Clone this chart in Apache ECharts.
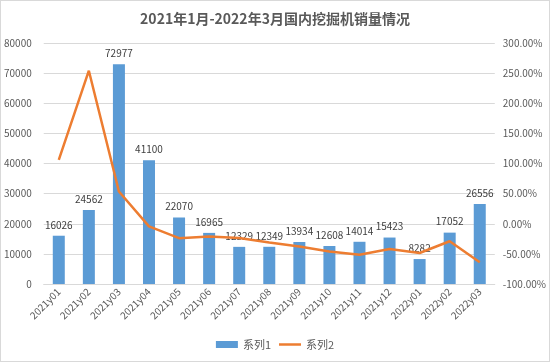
<!DOCTYPE html>
<html><head><meta charset="utf-8">
<script src="https://cdn.jsdelivr.net/npm/echarts@6/dist/echarts.min.js"></script>
<style>html,body{margin:0;padding:0;background:#fff}#c{width:548px;height:360px;border:1px solid #d9d9d9}</style>
</head><body><div id="c"></div>
<script>
const categories = ['2021y01','2021y02','2021y03','2021y04','2021y05','2021y06','2021y07','2021y08','2021y09','2021y10','2021y11','2021y12','2022y01','2022y02','2022y03'];
const series1 = [16026,24562,72977,41100,22070,16965,12329,12349,13934,12608,14014,15423,8282,17052,26556];
const series2 = [106,254,53.6,-4.4,-24,-21,-23.8,-31,-37.6,-46,-51.5,-42,-48.6,-29,-64];
const leftTicks = {min:0,max:80000,interval:10000};
const rightTicks = {min:-100,max:300,interval:50};

const chart = echarts.init(document.getElementById('c'));
const font = '"Noto Sans CJK SC", "Open Sans", sans-serif';
chart.setOption({
  animation:false,
  textStyle:{fontFamily:font},
  title:{text:'2021年1月-2022年3月国内挖掘机销量情况',left:'center',top:6,
    textStyle:{fontSize:14,fontWeight:'bold',color:'#595959',fontFamily:font}},
  legend:{bottom:6,left:'center',itemWidth:22,itemHeight:7,itemGap:8,
    textStyle:{fontSize:11,color:'#595959'},
    data:[{name:'系列1',icon:'rect'},{name:'系列2',icon:'path://M0,0H22V2.5H0Z',itemStyle:{color:'#ED7D31'}}]},
  grid:{left:41,right:54,top:42,bottom:77},
  xAxis:{type:'category',data:categories,
    axisLine:{lineStyle:{color:'#d9d9d9'}},axisTick:{show:false},
    axisLabel:{rotate:45,fontSize:10,color:'#595959',margin:6,interval:0}},
  yAxis:[
    {type:'value',min:leftTicks.min,max:leftTicks.max,interval:leftTicks.interval,
     axisLine:{show:false},axisTick:{show:false},
     splitLine:{lineStyle:{color:'#d9d9d9'}},
     axisLabel:{fontSize:10,color:'#595959',margin:12,formatter:v=>String(v)}},
    {type:'value',min:rightTicks.min,max:rightTicks.max,interval:rightTicks.interval,
     axisLine:{show:false},axisTick:{show:false},splitLine:{show:false},
     axisLabel:{fontSize:10,color:'#595959',margin:8,formatter:v=>v.toFixed(2)+'%'}}
  ],
  series:[
    {name:'系列1',type:'bar',data:series1,barWidth:12,yAxisIndex:0,
     itemStyle:{color:'#5B9BD5'},
     label:{show:true,position:'top',fontSize:10,color:'#404040',distance:6}},
    {name:'系列2',type:'line',data:series2,yAxisIndex:1,symbol:'none',
     lineStyle:{color:'#ED7D31',width:2.5},itemStyle:{color:'#ED7D31'}}
  ]
});
</script></body></html>
